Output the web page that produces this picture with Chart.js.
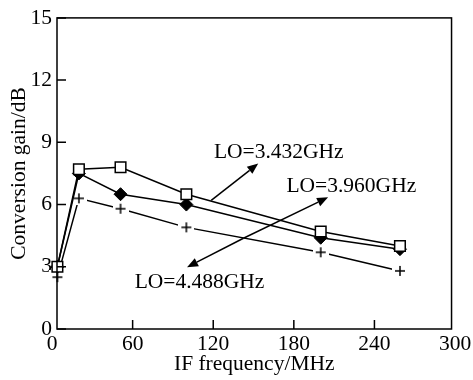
<!DOCTYPE html>
<html>
<head>
<meta charset="utf-8">
<script src="https://cdn.jsdelivr.net/npm/chart.js@4.4.0/dist/chart.umd.min.js"></script>
<style>
    html, body { margin: 0; padding: 0; background: #fff; }
    #wrap { width: 473px; height: 380px; }
</style>
</head>
<body>
<div id="wrap"><canvas id="chart"></canvas></div>
<script>
// data
const freq = [4, 20, 51, 100, 200, 259];
const gain3432 = [3.0, 7.7, 7.8, 6.5, 4.7, 4.0];
const gain3960 = [3.0, 7.5, 6.5, 6.0, 4.4, 3.85];
const gain4488 = [2.5, 6.3, 5.8, 4.9, 3.7, 2.8];

const seriesNames = ['LO=3.432GHz', 'LO=3.960GHz', 'LO=4.488GHz'];
const xTicks = [0, 60, 120, 180, 240, 300];

// labels + arrows, in data units
const notes = [
    { text: seriesNames[0], x: 120.5, y: 8.5 },
    { text: seriesNames[1], x: 174.5, y: 6.9 },
    { text: seriesNames[2], x: 61.5, y: 2.25 },
];
const arrows = [
    [118.5, 6.2, 153.5, 7.98],
    [142.5, 4.375, 205.5, 6.35],
    [142.5, 4.375, 100.5, 2.98],
];

const font = { family: 'Liberation Serif', size: 21.5 };

function toPoints(ys) {
    return freq.map((x, i) => ({ x, y: ys[i] }));
}

// plus marker with a white box so the line stops short of it
function plusMarker() {
    const c = document.createElement('canvas');
    c.width = 16;
    c.height = 14;
    const g = c.getContext('2d');
    g.fillStyle = '#fff';
    g.fillRect(0, 0, 16, 14);
    g.strokeStyle = '#000';
    g.lineWidth = 1.5;
    g.beginPath();
    g.moveTo(3, 7); g.lineTo(13, 7);
    g.moveTo(8, 2); g.lineTo(8, 12);
    g.stroke();
    return c;
}

const frame = {
    id: 'frame',
    afterDraw(chart) {
        const ctx = chart.ctx;
        const a = chart.chartArea;
        const xs = chart.scales.x, ys = chart.scales.y;
        ctx.save();
        ctx.strokeStyle = '#000';
        ctx.lineWidth = 1.5;
        ctx.strokeRect(a.left, a.top, a.right - a.left, a.bottom - a.top);
        ctx.beginPath();
        xs.ticks.forEach(t => {
            if (t.value <= xs.min || t.value >= xs.max) return;
            const px = xs.getPixelForValue(t.value);
            ctx.moveTo(px, a.bottom);
            ctx.lineTo(px, a.bottom - 9);
        });
        ys.ticks.forEach(t => {
            const py = ys.getPixelForValue(t.value);
            ctx.moveTo(a.left, py);
            ctx.lineTo(a.left + 9, py);
        });
        ctx.stroke();
        ctx.restore();
    }
};

const annotate = {
    id: 'annotate',
    afterDatasetsDraw(chart) {
        const ctx = chart.ctx;
        const xs = chart.scales.x, ys = chart.scales.y;
        ctx.save();
        ctx.fillStyle = '#000';
        ctx.strokeStyle = '#000';
        ctx.lineWidth = 1.5;
        ctx.font = font.size + 'px "' + font.family + '"';
        ctx.textAlign = 'left';
        ctx.textBaseline = 'middle';
        notes.forEach(n => {
            ctx.fillText(n.text, xs.getPixelForValue(n.x), ys.getPixelForValue(n.y));
        });
        arrows.forEach(([x0, y0, x1, y1]) => {
            const ax = xs.getPixelForValue(x0), ay = ys.getPixelForValue(y0);
            const bx = xs.getPixelForValue(x1), by = ys.getPixelForValue(y1);
            const ang = Math.atan2(by - ay, bx - ax);
            const len = 11, half = 4.5;
            const baseX = bx - len * Math.cos(ang), baseY = by - len * Math.sin(ang);
            ctx.beginPath();
            ctx.moveTo(ax, ay);
            ctx.lineTo(baseX, baseY);
            ctx.stroke();
            ctx.beginPath();
            ctx.moveTo(bx, by);
            ctx.lineTo(baseX + half * Math.sin(ang), baseY - half * Math.cos(ang));
            ctx.lineTo(baseX - half * Math.sin(ang), baseY + half * Math.cos(ang));
            ctx.closePath();
            ctx.fill();
        });
        ctx.restore();
    }
};

new Chart(document.getElementById('chart'), {
    type: 'line',
    data: {
        datasets: [
            {
                label: seriesNames[0],
                data: toPoints(gain3432),
                borderColor: '#000',
                borderWidth: 1.5,
                pointStyle: 'rect',
                pointRadius: 7.5,
                pointBackgroundColor: '#fff',
                pointBorderColor: '#000',
                pointBorderWidth: 1.5,
                clip: false,
            },
            {
                label: seriesNames[1],
                data: toPoints(gain3960),
                borderColor: '#000',
                borderWidth: 1.5,
                pointStyle: 'rectRot',
                pointRadius: 6.5,
                pointBackgroundColor: '#000',
                pointBorderColor: '#000',
                pointBorderWidth: 1,
                clip: false,
            },
            {
                label: seriesNames[2],
                data: toPoints(gain4488),
                borderColor: '#000',
                borderWidth: 1.5,
                pointStyle: plusMarker(),
                clip: false,
            },
        ]
    },
    options: {
        responsive: true,
        maintainAspectRatio: false,
        animation: false,
        events: [],
        layout: { padding: { top: 17, right: 18, left: 0, bottom: 0 } },
        elements: { line: { tension: 0 } },
        plugins: {
            legend: { display: false },
            tooltip: { enabled: false },
        },
        scales: {
            x: {
                type: 'linear',
                // frame sits a little inside 0 and 300 in the original
                min: 3.7,
                max: 297.4,
                afterBuildTicks(scale) {
                    scale.ticks = xTicks.map(v => ({ value: v }));
                },
                grid: { display: false, drawTicks: false },
                border: { display: false },
                ticks: { color: '#000', font, padding: 2, maxRotation: 0, autoSkip: false },
                title: { display: true, text: 'IF frequency/MHz', color: '#000', font, padding: { top: 0, bottom: 3 } },
                afterFit(scale) { scale.height = 51; },
            },
            y: {
                min: 0,
                max: 15,
                grid: { display: false, drawTicks: false },
                border: { display: false },
                ticks: { stepSize: 3, color: '#000', font, padding: 5 },
                title: { display: true, text: 'Conversion gain/dB', color: '#000', font, padding: { top: 6, bottom: 0 } },
                afterFit(scale) { scale.width = 57; },
            },
        },
    },
    plugins: [frame, annotate],
});
</script>
</body>
</html>
